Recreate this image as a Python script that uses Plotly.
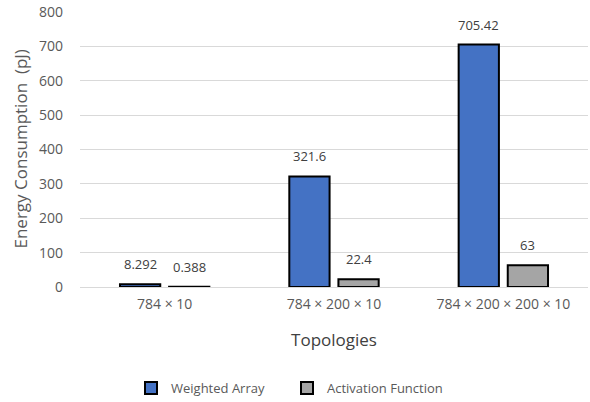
import plotly.graph_objects as go

topologies = ["784 × 10", "784 × 200 × 10", "784 × 200 × 200 × 10"]
weighted_array = [8.292, 321.6, 705.42]
activation_function = [0.388, 22.4, 63]
weighted_labels = ["8.292", "321.6", "705.42"]
activation_labels = ["0.388", "22.4", "63"]

font_family = "Open Sans, Noto Sans, sans-serif"
label_color = "#404040"
tick_color = "#595959"

W, H = 590, 402
margin = dict(l=80, r=2, t=12, b=115)
bargap, bargroupgap = 0.42, 0.18
plot_w = W - margin["l"] - margin["r"]

fig = go.Figure()
fig.add_trace(go.Bar(
    name="Weighted Array", x=topologies, y=weighted_array,
    marker=dict(color="#4472C4", line=dict(color="black", width=2)),
))
fig.add_trace(go.Bar(
    name="Activation Function", x=topologies, y=activation_function,
    marker=dict(color="#A5A5A5", line=dict(color="black", width=2)),
))

# value labels placed above each bar, shifted sideways to the bar's slot
cat_px = plot_w / len(topologies)
slot_px = cat_px * (1 - bargap) / 2
for sign, values, labels in ((-1, weighted_array, weighted_labels),
                             (1, activation_function, activation_labels)):
    for cat, v, lab in zip(topologies, values, labels):
        fig.add_annotation(
            x=cat, y=v, xref="x", yref="y", text=lab, showarrow=False,
            xanchor="center", yanchor="bottom", xshift=sign * slot_px / 2, yshift=9,
            font=dict(size=13, color=label_color),
        )

# rotated y-axis title, set out at the far left of the figure
fig.add_annotation(
    text="Energy Consumption  (pJ)", textangle=-90, showarrow=False,
    xref="paper", yref="paper", x=(20 - margin["l"]) / plot_w, y=0.5,
    xanchor="center", yanchor="middle",
    font=dict(size=17, color=tick_color),
)

fig.update_layout(
    width=W, height=H,
    margin=dict(**margin, autoexpand=False),
    paper_bgcolor="white", plot_bgcolor="white",
    font=dict(family=font_family, size=13, color=tick_color),
    barmode="group", bargap=bargap, bargroupgap=bargroupgap,
    showlegend=True,
    legend=dict(orientation="h", xref="container", x=131 / W, xanchor="left",
                yref="container", y=0.035, yanchor="middle",
                font=dict(size=13, color=tick_color), itemwidth=30,
                entrywidth=111, entrywidthmode="pixels",
                traceorder="normal"),
)
fig.update_yaxes(
    range=[0, 800], dtick=100, showgrid=True, gridcolor="#D9D9D9", gridwidth=1,
    zeroline=False, showline=False, ticks="", ticklabelstandoff=16,
    tickfont=dict(size=14, color=tick_color),
)
fig.update_xaxes(
    showline=True, linecolor="#D9D9D9", linewidth=1, ticks="",
    ticklabelstandoff=4, tickfont=dict(size=14, color=tick_color),
    title=dict(text="Topologies", font=dict(size=17, color="#404040"), standoff=22),
)

fig.write_html("out.html")
